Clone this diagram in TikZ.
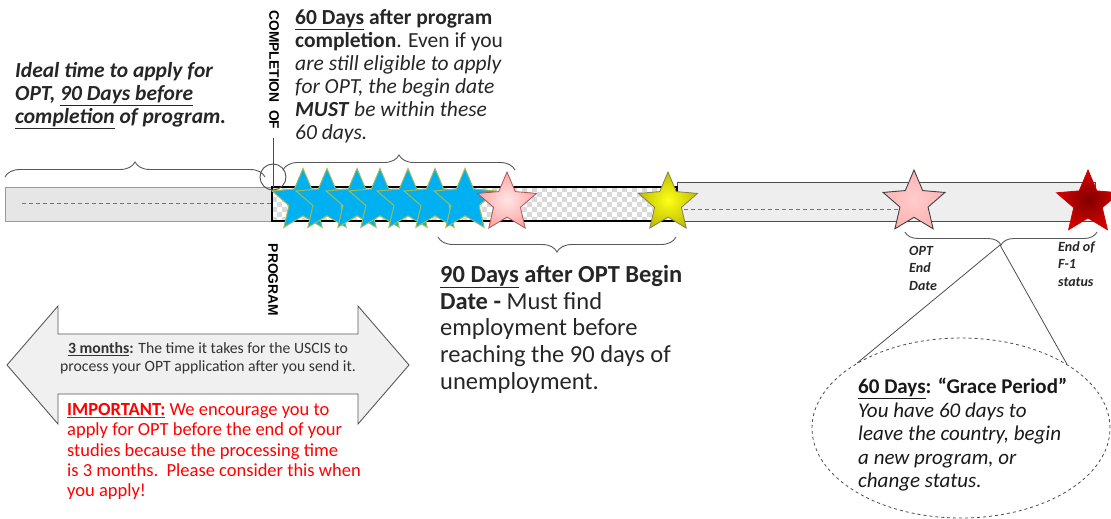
\documentclass[tikz,border=0pt]{standalone}
\usepackage{fontspec}
\setmainfont{Carlito}
\newfontfamily\arialfont{Liberation Sans}
\usetikzlibrary{shapes.geometric,decorations.pathreplacing}
\definecolor{txt}{HTML}{262626}
\definecolor{bargray}{HTML}{E6E6E6}
\definecolor{barright}{HTML}{EEEEEE}
\definecolor{checkgray}{HTML}{D9D9D9}
\definecolor{starblue}{HTML}{00B0F0}
\definecolor{staredge}{HTML}{9BBB59}
\definecolor{bracecol}{HTML}{595959}
\definecolor{impred}{HTML}{FF0000}
\tikzset{
  bracestyle/.style={draw=bracecol, line width=0.9pt, decorate, decoration={brace, amplitude=15pt}},
  starbase/.style={star, star points=5, star point ratio=2.2, inner sep=0pt},
  bluestar/.style={starbase, minimum size=65pt, fill=starblue, draw=staredge, line width=1pt},
  txtbox/.style={inner sep=0pt, align=left, text=txt},
  vtext/.style={inner sep=0pt, rotate=-90, font=\arialfont\bfseries\fontsize{13.8}{16}\selectfont, text=black},
}
\begin{document}
\begin{tikzpicture}[x=1pt,y=-1pt]
\useasboundingbox (0,0) rectangle (1111,519);
% bars
\draw[draw=gray!80, fill=bargray, line width=0.9pt] (5,187) rectangle (272,221);
\draw[draw=gray!60!black, fill=barright, line width=0.9pt] (677,182) rectangle (1095,221);
\begin{scope}
\clip (272,187) rectangle (677,221);
\fill[white] (272,187) rectangle (677,221);
\foreach \i in {0,...,81}{\foreach \j in {0,...,6}{
  \pgfmathtruncatemacro\k{mod(\i+\j,2)}
  \ifnum\k=0 \fill[checkgray] ({272+5*\i},{187+5*\j}) rectangle +(5,5);\fi
}}
\end{scope}
\draw[black, line width=2.6pt] (272,187) rectangle (677,221);
\draw[gray!90!black, dashed, dash pattern=on 4pt off 3pt, line width=0.9pt] (22,203) -- (272,203);
\draw[gray!90!black, dashed, dash pattern=on 4pt off 3pt, line width=0.9pt] (677,209) -- (900,209);
% braces
\draw[bracestyle] (5,177) -- (265,177);
\draw[bracestyle] (283,170) -- (515,170);
\draw[bracestyle] (676,237) -- (438,237);
\draw[bracestyle, decoration={brace, amplitude=13pt}] (1097,232) -- (905,232);
\coordinate (gtip) at (1000,245);
% circle and vertical line
\node[circle, draw=black!70, line width=0.9pt, minimum size=26pt, inner sep=0pt] (ccircle) at (273,177) {};
\coordinate (vtop) at (273,138);
\coordinate (vbot) at (273,187);
\draw[black!70, line width=0.9pt] (vtop) -- (vbot);
% vertical labels
\node[vtext] (complof) at (274,70) {COMPLETION\ \ OF};
\node[vtext] (program) at (273,280) {PROGRAM};
% stars
\node[bluestar] (b1) at (303,201) {};
\node[bluestar] (b2) at (327,201) {};
\node[bluestar] (b3) at (357,201) {};
\node[bluestar] (b4) at (380,201) {};
\node[bluestar] (b5) at (408,201) {};
\node[bluestar] (b6) at (435,201) {};
\node[bluestar] (b7) at (465,201) {};
\node[starbase, minimum size=62pt, inner color=white!60!pink, outer color=red!35!white, draw=red!35!gray, line width=0.8pt] (pink1) at (507,203) {};
\node[starbase, minimum size=62pt, inner color=yellow!90!white, outer color=yellow!75!black, draw=yellow!45!black, line width=0.8pt] (yel) at (668,203) {};
\node[starbase, minimum size=65pt, inner color=red!20!white, outer color=red!30!white, draw=black!75, line width=0.9pt] (pink2) at (914,202.5) {};
\node[starbase, minimum size=66pt, inner color=red!50!black, outer color=red!85!black, draw=red!80!black, line width=0.8pt] (darkred) at (1088,203) {};
% left double arrow
\draw[draw=black!65, fill=black!6, line width=0.9pt] (7,365) -- (58,306) -- (58,334) -- (358,334) -- (358,306) -- (409,365) -- (358,424) -- (358,394) -- (58,394) -- (58,424) -- cycle;
% texts
\node[txtbox, anchor=north west, font=\bfseries\itshape\fontsize{21.5}{23}\selectfont] (ideal) at (15,62)
  {Ideal time to apply for\\OPT, \underline{90 Days before}\\\underline{completion} of program.};
\node[txtbox, anchor=north west, font=\fontsize{21.5}{23}\selectfont] (sixty) at (295,9)
  {\textbf{\underline{60 Days} after program}\\\textbf{completion}. Even if you\\\textit{are still eligible to apply}\\\textit{for OPT, the begin date}\\\textbf{\textit{MUST}} \textit{be within these}\\\textit{60 days.}};
\node[txtbox, anchor=north west, font=\fontsize{24.5}{26.7}\selectfont] (ninety) at (440,265)
  {\textbf{\underline{90 Days} after OPT Begin}\\\textbf{Date -} Must find\\employment before\\reaching the 90 days of\\unemployment.};
\node[inner sep=0pt, align=center, text=black!80, font=\fontsize{15.7}{18}\selectfont] (months) at (208,358)
  {\textbf{\underline{3 months}:} The time it takes for the USCIS to\\process your OPT application after you send it.};
\node[inner sep=0pt, align=left, anchor=north west, text=impred, font=\fontsize{18.5}{20.4}\selectfont] (important) at (67,403)
  {\textbf{\underline{IMPORTANT:}} We encourage you to\\apply for OPT before the end of your\\studies because the processing time\\is 3 months.\ \ Please consider this when\\you apply!};
\node[txtbox, anchor=north west, font=\bfseries\itshape\fontsize{14}{17.5}\selectfont] (optend) at (909,246)
  {OPT\\End\\Date};
\node[txtbox, anchor=north west, font=\bfseries\itshape\fontsize{14}{17.5}\selectfont] (endf1) at (1058,241)
  {End of\\F-1\\status};
% grace ellipse
\node[ellipse, draw=black!70, dashed, line width=0.8pt, minimum width=298pt, minimum height=180pt, inner sep=0pt] (grace) at (961,428) {};
\draw[black!70, line width=0.8pt] (gtip) -- (grace.148);
\draw[black!70, line width=0.8pt] (gtip) -- (grace.31);
\node[txtbox, anchor=north west, text=black!90, font=\fontsize{21}{23.5}\selectfont] (gracetxt) at (858,378)
  {\textbf{\underline{60 Days}: “Grace Period”}\\\textit{You have 60 days to}\\\textit{leave the country, begin}\\\textit{a new program, or}\\\textit{change status.}};
\end{tikzpicture}
\end{document}
